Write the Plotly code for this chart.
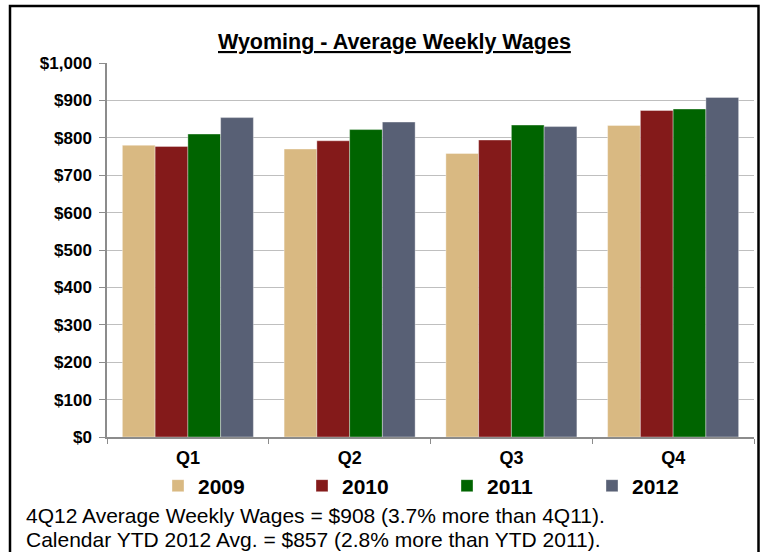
import plotly.graph_objects as go

quarters = ["Q1", "Q2", "Q3", "Q4"]
years = ["2009", "2010", "2011", "2012"]
wages_2009 = [780, 770, 758, 833]
wages_2010 = [777, 792, 794, 873]
wages_2011 = [810, 822, 834, 877]
wages_2012 = [854, 842, 830, 908]
series = [wages_2009, wages_2010, wages_2011, wages_2012]
colors = ["#D9B982", "#841A1A", "#006400", "#586075"]
y_ticks = [0, 100, 200, 300, 400, 500, 600, 700, 800, 900, 1000]
y_tick_labels = ["$0", "$100", "$200", "$300", "$400", "$500", "$600",
                 "$700", "$800", "$900", "$1,000"]
note_lines = [
    "4Q12 Average Weekly Wages = $908 (3.7% more than 4Q11).",
    "Calendar YTD 2012 Avg. = $857 (2.8% more than YTD 2011).",
]

W, H = 762, 552
L, R, T, B = 107, 8, 63, 115
pw, ph = W - L - R, H - T - B


def px_x(x):
    return (x - L) / pw


def px_y(y):
    return (H - B - y) / ph


font_main = "Liberation Sans, Arial, sans-serif"

# one legend box per year, spaced evenly under the quarter labels
legend_left = [158, 302, 447, 592]
legend_ids = ["legend", "legend2", "legend3", "legend4"]

fig = go.Figure()
for name, vals, col, lid in zip(years, series, colors, legend_ids):
    fig.add_trace(go.Bar(
        x=quarters, y=vals, name=name, legend=lid,
        marker=dict(color=col, line=dict(color="rgba(255,255,255,0.6)", width=0.6)),
    ))

legend_common = dict(
    orientation="h", xanchor="left", yanchor="middle",
    font=dict(size=21, family=font_main, color="black", weight="bold"),
    bgcolor="rgba(0,0,0,0)", borderwidth=0,
)

fig.update_layout(
    width=W, height=H,
    margin=dict(l=L, r=R, t=T, b=B, autoexpand=False),
    paper_bgcolor="white", plot_bgcolor="white",
    barmode="group", bargap=0.19, bargroupgap=0,
    font=dict(family=font_main, color="black"),
    showlegend=True,
    xaxis=dict(
        showline=True, linecolor="#8C8C8C", linewidth=1.5,
        ticks="outside", ticklen=5, tickcolor="#8C8C8C", tickson="boundaries",
        tickfont=dict(size=18, family=font_main, color="black", weight="bold"),
        ticklabelstandoff=4,
        showgrid=False,
    ),
    yaxis=dict(
        range=[0, 1000], tickvals=y_ticks, ticktext=y_tick_labels,
        showline=True, linecolor="#8C8C8C", linewidth=1.5,
        ticks="outside", ticklen=6, tickcolor="#8C8C8C",
        ticklabelstandoff=4,
        showgrid=True, gridcolor="#BFBFBF", gridwidth=1,
        tickfont=dict(size=17, family=font_main, color="black", weight="bold"),
        zeroline=False,
    ),
)
for lid, lx in zip(legend_ids, legend_left):
    fig.update_layout({lid: dict(legend_common, x=px_x(lx), y=px_y(486))})

# Chart title
fig.add_annotation(
    text="<b><u>Wyoming - Average Weekly Wages</u></b>",
    xref="paper", yref="paper", x=px_x(394), y=px_y(42),
    xanchor="center", yanchor="middle", showarrow=False,
    font=dict(size=21.5, family=font_main, color="black"),
)

# Footnote lines
for i, line in enumerate(note_lines):
    fig.add_annotation(
        text=line, xref="paper", yref="paper",
        x=px_x(24), y=px_y(515 + 24 * i),
        xanchor="left", yanchor="middle", showarrow=False,
        font=dict(size=21, family=font_main, color="black"),
    )

# Outer frame
fig.add_shape(
    type="rect", xref="paper", yref="paper",
    x0=px_x(10), x1=px_x(758.5), y0=px_y(570), y1=px_y(6),
    line=dict(color="black", width=2.5), fillcolor="rgba(0,0,0,0)",
    layer="above",
)

fig.write_html("out.html")
